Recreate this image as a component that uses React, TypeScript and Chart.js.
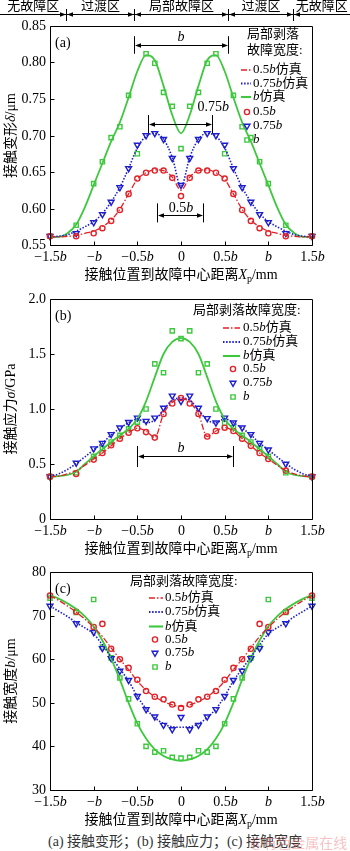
import React, { useEffect, useRef } from "react";
import { Chart, registerables } from "chart.js";
Chart.register(...registerables);

const SERIF = '"Liberation Serif", "Noto Sans CJK SC", serif';
const RED = "rgb(226,34,40)";
const BLUE = "rgb(30,30,205)";
const GREEN = "rgb(62,200,62)";

// ---------------- data ----------------
const xSim = [-1.5, -1.4, -1.3, -1.2, -1.1, -1.0, -0.9, -0.8, -0.7, -0.6, -0.5, -0.4, -0.3, -0.2, -0.1, 0, 0.1, 0.2, 0.3, 0.4, 0.5, 0.6, 0.7, 0.8, 0.9, 1.0, 1.1, 1.2, 1.3, 1.4, 1.5];
const xExp = [-1.5, -1.2, -1.0, -0.9, -0.8, -0.7, -0.6, -0.5, -0.4, -0.3, -0.2, -0.1, 0, 0.1, 0.2, 0.3, 0.4, 0.5, 0.6, 0.7, 0.8, 0.9, 1.0, 1.2, 1.5];

const xTickVals = [-1.5, -1, -0.5, 0, 0.5, 1, 1.5];
const xTickLabels = ["−1.5b", "−b", "−0.5b", "0", "0.5b", "b", "1.5b"];

const seriesNames = ["0.5b仿真", "0.75b仿真", "b仿真", "0.5b", "0.75b", "b"];
const zoneNames = ["无故障区", "过渡区", "局部故障区", "过渡区", "无故障区"];
const zoneBounds = [-1.32, -0.54, 0.54, 1.28];

// (a) contact deformation
const aYTicks = [0.55, 0.6, 0.65, 0.7, 0.75, 0.8, 0.85];
const aYLabels = ["0.55", "0.60", "0.65", "0.70", "0.75", "0.80", "0.85"];
const aSimRed = [0.561, 0.561, 0.562, 0.563, 0.566, 0.569, 0.575, 0.584, 0.599, 0.620, 0.640, 0.649, 0.653, 0.652, 0.643, 0.625, 0.643, 0.652, 0.653, 0.649, 0.640, 0.620, 0.599, 0.584, 0.575, 0.569, 0.566, 0.563, 0.562, 0.561, 0.561];
const aSimBlue = [0.561, 0.562, 0.564, 0.569, 0.575, 0.582, 0.593, 0.609, 0.629, 0.655, 0.683, 0.699, 0.703, 0.695, 0.670, 0.630, 0.670, 0.695, 0.703, 0.699, 0.683, 0.655, 0.629, 0.609, 0.593, 0.582, 0.575, 0.569, 0.564, 0.562, 0.561];
const aSimGreen = [0.561, 0.561, 0.566, 0.578, 0.602, 0.632, 0.662, 0.692, 0.718, 0.752, 0.788, 0.810, 0.803, 0.768, 0.728, 0.703, 0.728, 0.768, 0.803, 0.810, 0.788, 0.752, 0.718, 0.692, 0.662, 0.632, 0.602, 0.578, 0.566, 0.561, 0.561];
const aExpRed = [0.562, 0.562, 0.566, 0.573, 0.583, 0.598, 0.620, 0.641, 0.649, 0.652, 0.652, 0.642, 0.617, 0.642, 0.652, 0.652, 0.649, 0.641, 0.620, 0.598, 0.583, 0.573, 0.566, 0.562, 0.562];
const aExpBlue = [0.562, 0.566, 0.581, 0.592, 0.609, 0.629, 0.655, 0.687, 0.700, 0.703, 0.695, 0.669, 0.632, 0.669, 0.695, 0.703, 0.700, 0.687, 0.655, 0.629, 0.609, 0.592, 0.581, 0.566, 0.562];
const aExpGreen = [0.562, 0.577, 0.634, 0.664, 0.697, 0.712, 0.755, 0.675, 0.812, 0.799, 0.759, 0.740, 0.682, 0.740, 0.759, 0.799, 0.812, 0.675, 0.755, 0.712, 0.697, 0.664, 0.634, 0.577, 0.562];

// (b) contact stress
const bYTicks = [0, 0.5, 1.0, 1.5, 2.0];
const bYLabels = ["0", "0.5", "1.0", "1.5", "2.0"];
const bSimRed = [0.385, 0.39, 0.41, 0.44, 0.49, 0.545, 0.60, 0.665, 0.73, 0.785, 0.825, 0.80, 0.74, 0.955, 1.06, 1.10, 1.06, 0.955, 0.75, 0.80, 0.83, 0.80, 0.73, 0.665, 0.60, 0.545, 0.49, 0.44, 0.41, 0.39, 0.385];
const bSimBlue = [0.385, 0.41, 0.45, 0.505, 0.565, 0.63, 0.69, 0.765, 0.825, 0.875, 0.91, 0.875, 0.90, 0.99, 1.08, 1.10, 1.08, 0.99, 0.90, 0.875, 0.91, 0.875, 0.825, 0.765, 0.69, 0.63, 0.565, 0.505, 0.45, 0.41, 0.385];
const bSimGreen = [0.385, 0.39, 0.40, 0.43, 0.50, 0.57, 0.635, 0.70, 0.76, 0.82, 0.91, 1.07, 1.29, 1.50, 1.61, 1.645, 1.61, 1.50, 1.29, 1.07, 0.91, 0.82, 0.76, 0.70, 0.635, 0.57, 0.50, 0.43, 0.40, 0.39, 0.385];
const bExpRed = [0.385, 0.41, 0.54, 0.60, 0.67, 0.73, 0.785, 0.825, 0.79, 0.74, 0.955, 1.05, 1.10, 1.05, 0.955, 0.75, 0.80, 0.83, 0.80, 0.73, 0.665, 0.60, 0.545, 0.44, 0.385];
const bExpBlue = [0.385, 0.51, 0.64, 0.69, 0.77, 0.83, 0.88, 0.92, 0.89, 0.92, 1.01, 1.12, 1.07, 1.12, 1.01, 0.915, 0.875, 0.92, 0.875, 0.83, 0.77, 0.69, 0.63, 0.50, 0.385];
const bExpGreen = [0.385, 0.42, 0.57, 0.64, 0.70, 0.76, 0.82, 0.88, 1.00, 1.41, 1.33, 1.71, 1.64, 1.71, 1.33, 1.41, 1.00, 0.87, 0.83, 0.76, 0.70, 0.64, 0.57, 0.42, 0.385];

// (c) contact width
const cYTicks = [30, 40, 50, 60, 70, 80];
const cYLabels = ["30", "40", "50", "60", "70", "80"];
const cSimRed = [74.6, 73.5, 72.2, 70.8, 69.2, 67.3, 65.2, 62.6, 60.0, 57.6, 55.0, 52.9, 51.4, 50.3, 49.5, 49.2, 49.5, 50.3, 51.4, 52.9, 55.0, 57.6, 60.0, 62.6, 65.2, 67.3, 69.2, 70.8, 72.2, 73.5, 74.6];
const cSimBlue = [72.2, 71.0, 69.8, 68.4, 67.2, 65.8, 63.3, 60.5, 57.8, 55.0, 51.5, 48.6, 46.6, 45.2, 44.5, 44.4, 44.5, 45.2, 46.6, 48.6, 51.5, 55.0, 57.8, 60.5, 63.3, 65.8, 67.2, 68.4, 69.8, 71.0, 72.2];
const cSimGreen = [74.7, 73.9, 72.8, 71.5, 69.8, 67.5, 64.3, 60.2, 55.3, 50.0, 45.3, 41.8, 39.3, 37.8, 37.0, 36.7, 37.0, 37.8, 39.3, 41.8, 45.3, 50.0, 55.3, 60.2, 64.3, 67.5, 69.8, 71.5, 72.8, 73.9, 74.7];
const cExpRed = [74.6, 70.9, 67.4, 68.1, 62.4, 60.0, 58.0, 55.3, 52.7, 51.4, 50.8, 49.6, 48.8, 49.6, 50.8, 51.4, 52.7, 55.3, 58.0, 60.0, 62.4, 68.1, 67.4, 70.9, 74.6];
const cExpBlue = [72.2, 68.2, 66.2, 62.5, 60.2, 57.3, 55.2, 51.5, 48.5, 46.8, 44.9, 43.9, 46.7, 43.9, 44.9, 46.8, 48.5, 51.5, 55.2, 57.3, 60.2, 62.5, 66.2, 68.2, 72.2];
const cExpGreen = [74.0, 70.7, 73.7, 62.8, 60.3, 55.7, 50.9, 45.2, 40.0, 38.7, 39.0, 37.5, 37.3, 37.5, 39.0, 38.7, 40.0, 45.2, 50.9, 55.7, 60.3, 62.8, 73.7, 70.7, 74.0];

// ---------------- styles ----------------
type Seg = { t: string; it?: boolean; sub?: boolean };

const simStyles = [
  { color: RED, dash: [6, 2, 1.5, 2], width: 1.3 },
  { color: BLUE, dash: [1.5, 1.6], width: 1.6 },
  { color: GREEN, dash: [] as number[], width: 1.8 },
];
const expStyles = [
  { color: RED, style: "circle", rotation: 0, radius: 2.6 },
  { color: BLUE, style: "triangle", rotation: 180, radius: 3.4 },
  { color: GREEN, style: "rect", rotation: 0, radius: 3.0 },
];

function bSegs(s: string): Seg[] {
  const out: Seg[] = [];
  const parts = s.split("b");
  parts.forEach((p, i) => {
    if (p) out.push({ t: p });
    if (i < parts.length - 1) out.push({ t: "b", it: true });
  });
  return out;
}

function fontFor(size: number, s: Seg) {
  const sz = s.sub ? Math.round(size * 0.7) : size;
  return `${s.it ? "italic " : ""}${sz}px ${SERIF}`;
}

function drawSegs(ctx: CanvasRenderingContext2D, segs: Seg[], x: number, y: number, size: number, align: string) {
  const widths = segs.map((s) => {
    ctx.font = fontFor(size, s);
    return ctx.measureText(s.t).width;
  });
  const total = widths.reduce((a, b) => a + b, 0);
  let cx = align === "left" ? x : align === "center" ? x - total / 2 : x - total;
  ctx.textBaseline = "middle";
  ctx.textAlign = "left";
  segs.forEach((s, i) => {
    ctx.font = fontFor(size, s);
    ctx.fillText(s.t, cx, s.sub ? y + size * 0.3 : y);
    cx += widths[i];
  });
}

function arrowHead(ctx: CanvasRenderingContext2D, x: number, y: number, dir: number) {
  ctx.beginPath();
  ctx.moveTo(x, y);
  ctx.lineTo(x - dir * 6, y - 2.3);
  ctx.lineTo(x - dir * 6, y + 2.3);
  ctx.closePath();
  ctx.fill();
}

function drawPointMarker(ctx: CanvasRenderingContext2D, i: number, x: number, y: number) {
  const st = expStyles[i];
  const r = st.radius;
  ctx.save();
  ctx.strokeStyle = st.color;
  ctx.lineWidth = 1.4;
  ctx.beginPath();
  if (st.style === "circle") {
    ctx.arc(x, y, r, 0, Math.PI * 2);
  } else if (st.style === "triangle") {
    const h = r * 1.5;
    const half = (r * 3) / Math.sqrt(3) / 2;
    ctx.moveTo(x - half, y - h / 3);
    ctx.lineTo(x + half, y - h / 3);
    ctx.lineTo(x, y + (2 * h) / 3);
    ctx.closePath();
  } else {
    const s = r * Math.SQRT1_2;
    ctx.rect(x - s, y - s, 2 * s, 2 * s);
  }
  ctx.stroke();
  ctx.restore();
}

// ---------------- panels ----------------
type Bracket = { x0: number; x1: number; y: number; y0: number; y1: number; label: string; lx: number; ly: number };
type PanelCfg = {
  top: number; height: number; padTop: number; padBottom: number;
  yMin: number; yMax: number; yTicks: number[]; yLabels: string[];
  yTitle: Seg[]; tag: string;
  sims: number[][]; exps: number[][];
  legendTitle: { text: string; x: number; y: number }[];
  legend: { s0: number; s1: number; mx: number; tx: number; ys: number[] };
  brackets: Bracket[];
  header: boolean;
};

const PANELS: PanelCfg[] = [
  {
    top: 0, height: 285, padTop: 26, padBottom: 40,
    yMin: 0.55, yMax: 0.85, yTicks: aYTicks, yLabels: aYLabels,
    yTitle: [{ t: "接触变形" }, { t: "δ", it: true }, { t: "/μm" }], tag: "(a)",
    sims: [aSimRed, aSimBlue, aSimGreen], exps: [aExpRed, aExpBlue, aExpGreen],
    legendTitle: [{ text: "局部剥落", x: 247, y: 35 }, { text: "故障宽度:", x: 247, y: 51 }],
    legend: { s0: 241, s1: 251, mx: 247, tx: 253, ys: [70, 83.5, 97, 112, 126, 140] },
    brackets: [
      { x0: -0.54, x1: 0.54, y: 0.824, y0: 0.836, y1: 0.812, label: "b", lx: 0, ly: 0.835 },
      { x0: -0.38, x1: 0.36, y: 0.716, y0: 0.728, y1: 0.703, label: "0.75b", lx: 0.37, ly: 0.738 },
      { x0: -0.27, x1: 0.25, y: 0.591, y0: 0.607, y1: 0.581, label: "0.5b", lx: 0, ly: 0.600 },
    ],
    header: true,
  },
  {
    top: 285, height: 273, padTop: 14, padBottom: 39,
    yMin: 0, yMax: 2.0, yTicks: bYTicks, yLabels: bYLabels,
    yTitle: [{ t: "接触应力" }, { t: "σ", it: true }, { t: "/GPa" }], tag: "(b)",
    sims: [bSimRed, bSimBlue, bSimGreen], exps: [bExpRed, bExpBlue, bExpGreen],
    legendTitle: [{ text: "局部剥落故障宽度:", x: 193, y: 311 }],
    legend: { s0: 223, s1: 240, mx: 233, tx: 243, ys: [328, 342, 356, 369, 383, 397] },
    brackets: [
      { x0: -0.5, x1: 0.6, y: 0.573, y0: 0.664, y1: 0.473, label: "b", lx: 0, ly: 0.640 },
    ],
    header: false,
  },
  {
    top: 558, height: 275, padTop: 14, padBottom: 43,
    yMin: 30, yMax: 80, yTicks: cYTicks, yLabels: cYLabels,
    yTitle: [{ t: "接触宽度" }, { t: "b", it: true }, { t: "/μm" }], tag: "(c)",
    sims: [cSimRed, cSimBlue, cSimGreen], exps: [cExpRed, cExpBlue, cExpGreen],
    legendTitle: [{ text: "局部剥落故障宽度:", x: 130, y: 582 }],
    legend: { s0: 149, s1: 163, mx: 155, tx: 165, ys: [598, 612, 626.5, 639.5, 653, 667] },
    brackets: [],
    header: false,
  },
];

function makePlugin(cfg: PanelCfg) {
  return {
    id: "decor",
    afterDatasetsDraw(chart: any) {
      const ctx: CanvasRenderingContext2D = chart.ctx;
      const { left, right, top, bottom } = chart.chartArea;
      const xs = chart.scales.x;
      const ys = chart.scales.y;
      const off = cfg.top;
      ctx.save();
      ctx.fillStyle = "#000";
      ctx.strokeStyle = "#000";
      ctx.lineWidth = 1;
      const L = Math.round(left) + 0.5, R = Math.round(right) + 0.5, T = Math.round(top) + 0.5, B = Math.round(bottom) + 0.5;
      ctx.beginPath();
      ctx.rect(L, T, R - L, B - T);
      ctx.stroke();
      xTickVals.forEach((v, i) => {
        const px = Math.round(xs.getPixelForValue(v)) + 0.5;
        ctx.beginPath();
        ctx.moveTo(px, B);
        ctx.lineTo(px, B - 4);
        ctx.stroke();
        drawSegs(ctx, bSegs(xTickLabels[i]), px, bottom + 12, 14, "center");
      });
      cfg.yTicks.forEach((v, i) => {
        const py = Math.round(ys.getPixelForValue(v)) + 0.5;
        ctx.beginPath();
        ctx.moveTo(L, py);
        ctx.lineTo(L + 4, py);
        ctx.stroke();
        drawSegs(ctx, [{ t: cfg.yLabels[i] }], left - 4, py, 14, "right");
      });
      drawSegs(ctx, [{ t: "接触位置到故障中心距离" }, { t: "X", it: true }, { t: "p", sub: true }, { t: "/mm" }], (left + right) / 2, bottom + 30, 14, "center");
      ctx.save();
      ctx.translate(11, (top + bottom) / 2);
      ctx.rotate(-Math.PI / 2);
      drawSegs(ctx, cfg.yTitle, 0, 0, 14, "center");
      ctx.restore();
      drawSegs(ctx, [{ t: cfg.tag }], left + 5, top + 17, 14, "left");
      cfg.brackets.forEach((b) => {
        const x0 = Math.round(xs.getPixelForValue(b.x0)) + 0.5;
        const x1 = Math.round(xs.getPixelForValue(b.x1)) + 0.5;
        const y = Math.round(ys.getPixelForValue(b.y)) + 0.5;
        const ya = ys.getPixelForValue(b.y0);
        const yb = ys.getPixelForValue(b.y1);
        ctx.beginPath();
        ctx.moveTo(x0, ya); ctx.lineTo(x0, yb);
        ctx.moveTo(x1, ya); ctx.lineTo(x1, yb);
        ctx.moveTo(x0 + 2, y); ctx.lineTo(x1 - 2, y);
        ctx.stroke();
        arrowHead(ctx, x0 + 0.5, y, -1);
        arrowHead(ctx, x1 - 0.5, y, 1);
        drawSegs(ctx, bSegs(b.label), xs.getPixelForValue(b.lx), ys.getPixelForValue(b.ly), 14, "center");
      });
      cfg.legendTitle.forEach((t) => drawSegs(ctx, [{ t: t.text }], t.x, t.y - off, 13, "left"));
      const lg = cfg.legend;
      for (let i = 0; i < 6; i++) {
        const y = lg.ys[i] - off;
        if (i < 3) {
          const st = simStyles[i];
          ctx.save();
          ctx.strokeStyle = st.color;
          ctx.lineWidth = st.width + 0.3;
          ctx.setLineDash(st.dash);
          ctx.beginPath();
          ctx.moveTo(lg.s0, y); ctx.lineTo(lg.s1, y);
          ctx.stroke();
          ctx.restore();
        } else {
          drawPointMarker(ctx, i - 3, lg.mx, y);
        }
        ctx.fillStyle = "#000";
        drawSegs(ctx, bSegs(seriesNames[i]), lg.tx, y, 13, "left");
      }
      if (cfg.header) {
        const bounds = zoneBounds.map((v) => Math.round(xs.getPixelForValue(v)) + 0.5);
        const edges = [0, ...bounds, chart.width];
        const ly = 14.5;
        ctx.beginPath();
        ctx.moveTo(0, ly); ctx.lineTo(chart.width, ly);
        bounds.forEach((bx) => { ctx.moveTo(bx, 9); ctx.lineTo(bx, 21); });
        ctx.stroke();
        bounds.forEach((bx) => { arrowHead(ctx, bx - 0.5, ly, 1); arrowHead(ctx, bx + 0.5, ly, -1); });
        for (let i = 0; i < 5; i++) {
          drawSegs(ctx, [{ t: zoneNames[i] }], (edges[i] + edges[i + 1]) / 2, 7, 13, "center");
        }
      }
      ctx.restore();
    },
  };
}

function Panel({ cfg }: { cfg: PanelCfg }) {
  const ref = useRef<HTMLCanvasElement>(null);
  useEffect(() => {
    if (!ref.current) return;
    const datasets: any[] = [];
    cfg.sims.forEach((arr, i) => {
      const st = simStyles[i];
      datasets.push({
        data: xSim.map((x, k) => ({ x, y: arr[k] })),
        showLine: true, borderColor: st.color, borderWidth: st.width, borderDash: st.dash,
        pointRadius: 0, cubicInterpolationMode: "monotone", fill: false,
      });
    });
    cfg.exps.forEach((arr, i) => {
      const st = expStyles[i];
      datasets.push({
        data: xExp.map((x, k) => ({ x, y: arr[k] })),
        showLine: false, borderColor: st.color, backgroundColor: "rgba(255,255,255,0)",
        pointStyle: st.style, pointRotation: st.rotation, pointRadius: st.radius, pointBorderWidth: 1.4,
        clip: false,
      });
    });
    const chart = new Chart(ref.current, {
      type: "line",
      data: { datasets },
      options: {
        animation: false, responsive: false, devicePixelRatio: 1,
        layout: { padding: { left: 50, right: 38, top: cfg.padTop, bottom: cfg.padBottom } },
        scales: {
          x: { type: "linear", min: -1.5, max: 1.5, display: false },
          y: { type: "linear", min: cfg.yMin, max: cfg.yMax, display: false },
        },
        plugins: { legend: { display: false }, tooltip: { enabled: false } },
      },
      plugins: [makePlugin(cfg)],
    } as any);
    return () => chart.destroy();
  }, [cfg]);
  return (
    <canvas ref={ref} width={350} height={cfg.height}
      style={{ position: "absolute", left: 0, top: cfg.top, width: 350, height: cfg.height }} />
  );
}

export default function App() {
  return (
    <div style={{ position: "absolute", left: 0, top: 0, width: 350, height: 851, background: "#fff", overflow: "hidden" }}>
      {PANELS.map((p, i) => <Panel key={i} cfg={p} />)}
      <div style={{ position: "absolute", left: 0, top: 833, width: 350, height: 18, textAlign: "center", font: `14px ${SERIF}`, color: "#333", lineHeight: "18px", whiteSpace: "nowrap" }}>
        (a) 接触变形；(b) 接触应力；(c) 接触宽度
      </div>
      <div style={{ position: "absolute", left: 250, top: 833, height: 18, font: `14px "Noto Sans CJK SC", sans-serif`, color: "rgba(235,120,120,0.45)", lineHeight: "18px", whiteSpace: "nowrap" }}>
        @有色金属在线
      </div>
    </div>
  );
}
